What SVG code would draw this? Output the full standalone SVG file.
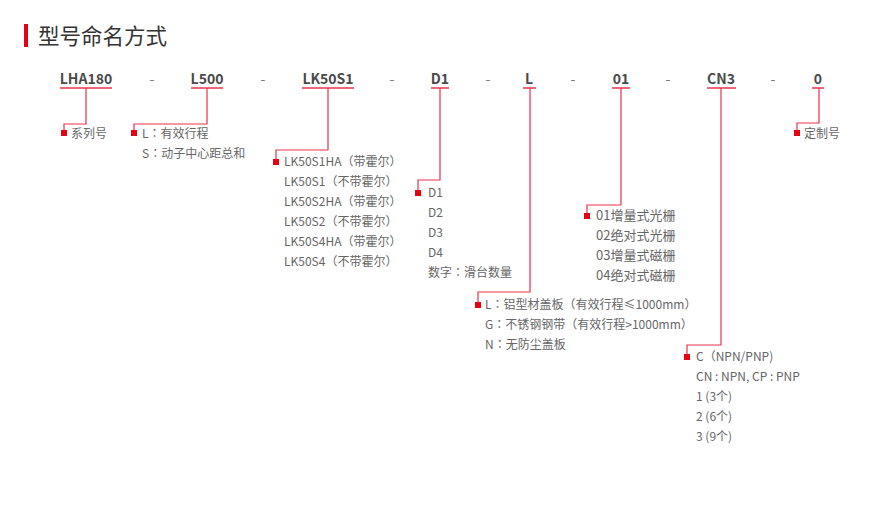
<svg xmlns="http://www.w3.org/2000/svg" width="875" height="508" viewBox="0 0 875 508">
<style>
text{font-family:"Noto Sans CJK SC","Noto Sans",sans-serif}
.code{font-size:14px;font-weight:bold;fill:#4a4a4a;text-anchor:middle}
.dash{font-size:14px;fill:#777;text-anchor:middle}
.d{font-size:12px;fill:#666}
.d13{font-size:13px;fill:#666}
.tc{font-family:"Noto Sans CJK TC","Noto Sans CJK SC",sans-serif}
.ul{stroke:#e8334a;stroke-width:1.5}
.ln{fill:none;stroke:#e8334a;stroke-width:1.2}
.mk{fill:#e60012}
</style>
<rect width="875" height="508" fill="#fff"/>
<g id="title">
<rect x="24" y="24" width="4" height="23" fill="#e60012"/>
<text x="38" y="44" font-size="21.5" fill="#333">型号命名方式</text>
</g>
<g id="codes">
<text class="code" x="86" y="84">LHA180</text>
<text class="code" x="207" y="84">L500</text>
<text class="code" x="328" y="84">LK50S1</text>
<text class="code" x="440" y="84">D1</text>
<text class="code" x="529" y="84">L</text>
<text class="code" x="621" y="84">01</text>
<text class="code" x="721" y="84">CN3</text>
<text class="code" x="818" y="84">0</text>
<text class="dash" x="152" y="84">-</text>
<text class="dash" x="263" y="84">-</text>
<text class="dash" x="392" y="84">-</text>
<text class="dash" x="488" y="84">-</text>
<text class="dash" x="573" y="84">-</text>
<text class="dash" x="668" y="84">-</text>
<text class="dash" x="773" y="84">-</text>
<line class="ul" x1="60" y1="88" x2="112" y2="88"/>
<line class="ul" x1="191" y1="88" x2="223" y2="88"/>
<line class="ul" x1="302" y1="88" x2="354" y2="88"/>
<line class="ul" x1="431" y1="88" x2="449" y2="88"/>
<line class="ul" x1="523" y1="88" x2="536" y2="88"/>
<line class="ul" x1="612" y1="88" x2="630" y2="88"/>
<line class="ul" x1="707" y1="88" x2="736" y2="88"/>
<line class="ul" x1="812" y1="88" x2="824" y2="88"/>
</g>
<g id="connectors">
<polyline class="ln" points="86,88 86,124 64,124 64,131"/>
<polyline class="ln" points="207,88 207,124 134,124 134,131"/>
<polyline class="ln" points="328,88 328,150 276,150 276,160"/>
<polyline class="ln" points="440,88 440,180 418,180 418,190"/>
<polyline class="ln" points="530,88 530,292 478,292 478,303"/>
<polyline class="ln" points="621,88 621,205 587,205 587,214"/>
<polyline class="ln" points="721,88 721,345 687,345 687,355"/>
<polyline class="ln" points="819,88 819,123 797,123 797,131"/>
</g>
<g id="n-series">
<rect class="mk" x="61" y="130" width="6" height="6"/>
<text class="d" x="71" y="138">系列号</text>
</g>
<g id="n-stroke">
<rect class="mk" x="131" y="130" width="6" height="6"/>
<text class="d" x="142" y="138">L<tspan class="tc">：</tspan>有效行程</text>
<text class="d" x="142" y="158">S<tspan class="tc">：</tspan>动子中心距总和</text>
</g>
<g id="n-motor">
<rect class="mk" x="273" y="159" width="6" height="6"/>
<text class="d" x="284" y="166">LK50S1HA（带霍尔）</text>
<text class="d" x="284" y="186">LK50S1（不带霍尔）</text>
<text class="d" x="284" y="206">LK50S2HA（带霍尔）</text>
<text class="d" x="284" y="226">LK50S2（不带霍尔）</text>
<text class="d" x="284" y="246">LK50S4HA（带霍尔）</text>
<text class="d" x="284" y="266">LK50S4（不带霍尔）</text>
</g>
<g id="n-slider">
<rect class="mk" x="415" y="190" width="6" height="6"/>
<text class="d" x="428" y="197">D1</text>
<text class="d" x="428" y="217">D2</text>
<text class="d" x="428" y="237">D3</text>
<text class="d" x="428" y="257">D4</text>
<text class="d" x="428" y="277">数字<tspan class="tc">：</tspan>滑台数量</text>
</g>
<g id="n-cover">
<rect class="mk" x="475" y="302" width="6" height="6"/>
<text class="d" x="485" y="309">L<tspan class="tc">：</tspan>铝型材盖板（有效行程≤1000mm）</text>
<text class="d" x="485" y="329">G<tspan class="tc">：</tspan>不锈钢钢带（有效行程&gt;1000mm）</text>
<text class="d" x="485" y="349">N<tspan class="tc">：</tspan>无防尘盖板</text>
</g>
<g id="n-encoder">
<rect class="mk" x="584" y="213" width="6" height="6"/>
<text class="d13" x="596" y="220">01增量式光栅</text>
<text class="d13" x="596" y="240">02绝对式光栅</text>
<text class="d13" x="596" y="260">03增量式磁栅</text>
<text class="d13" x="596" y="280">04绝对式磁栅</text>
</g>
<g id="n-sensor">
<rect class="mk" x="684" y="354" width="6" height="6"/>
<text class="d" x="696" y="361">C（NPN/PNP)</text>
<text class="d" x="696" y="381">CN : NPN, CP : PNP</text>
<text class="d" x="696" y="401">1 (3个)</text>
<text class="d" x="696" y="421">2 (6个)</text>
<text class="d" x="696" y="441">3 (9个)</text>
</g>
<g id="n-custom">
<rect class="mk" x="794" y="130" width="6" height="6"/>
<text class="d" x="804" y="138">定制号</text>
</g>
</svg>
